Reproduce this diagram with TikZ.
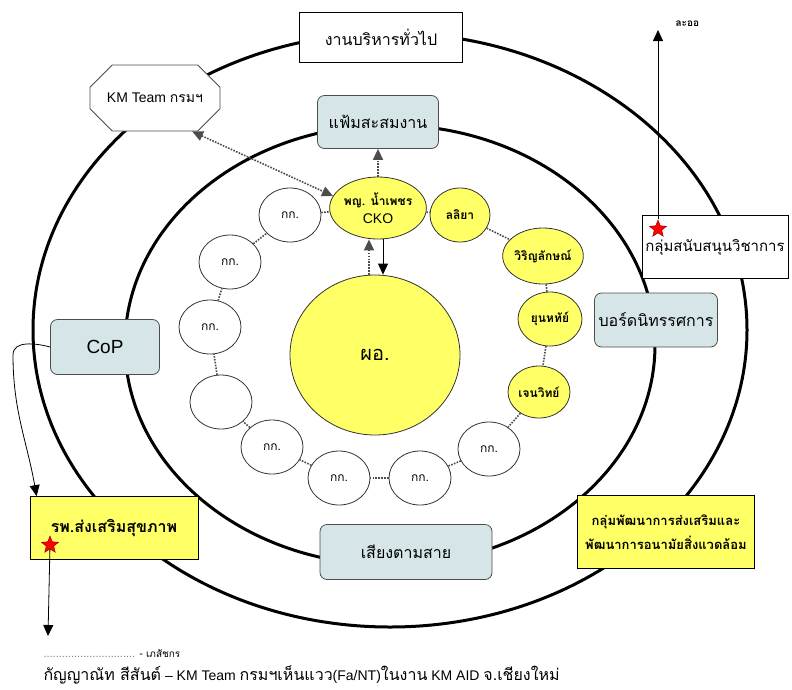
\documentclass[tikz,border=0pt]{standalone}
\usepackage{fontspec}
\setmainfont{Liberation Sans}
\newfontfamily\thai[Script=Thai]{Loma}
\usetikzlibrary{shapes.geometric,shapes.misc,arrows.meta}

\definecolor{ringyellow}{RGB}{255,255,102}
\definecolor{boardfill}{RGB}{214,230,232}

\tikzset{
  member/.style={ellipse,draw=black!80,thick,fill=white,minimum width=62pt,minimum height=54pt,inner sep=0pt,font=\thai\fontsize{12}{14}\selectfont},
  core/.style={member,fill=ringyellow,font=\thai\bfseries\fontsize{12}{14}\selectfont},
  board/.style={rounded corners=7pt,draw=black!70,thick,fill=boardfill,font=\thai\fontsize{16}{18}\selectfont},
  group/.style={draw,thick,font=\thai\fontsize{13}{15}\selectfont},
  link/.style={black!70,line width=1.6pt,dash pattern=on 1.6pt off 1.3pt},
  tip/.style={-{Triangle[width=10pt,length=11pt]}},
  starmark/.style={star,star points=5,star point ratio=2.3,fill=red,draw=red!50!black,minimum size=18pt,inner sep=0pt}
}

\begin{document}
\begin{tikzpicture}[x=1pt,y=-1pt]
\useasboundingbox (0,0) rectangle (792,689);

\draw[line width=3pt] (390,330) ellipse [x radius=357, y radius=297];
\draw[line width=3pt] (390,345) ellipse [x radius=265, y radius=220];

\node[group,fill=white,minimum width=163pt,minimum height=50pt,font=\thai\fontsize{16}{18}\selectfont] (admin) at (381,37) {งานบริหารทั่วไป};
\node[chamfered rectangle,chamfered rectangle xsep=16pt,chamfered rectangle ysep=14pt,draw=black!70,thick,fill=white,minimum width=130pt,minimum height=66pt,font=\fontsize{14}{16}\selectfont] (kmteam) at (155,98) {KM Team {\thai กรมฯ}};
\node[board,minimum width=121pt,minimum height=53pt] (file) at (378,122) {แฟ้มสะสมงาน};
\node[board,minimum width=123pt,minimum height=54pt] (exhibit) at (656,320) {บอร์ดนิทรรศการ};
\node[board,minimum width=109pt,minimum height=55pt,font=\fontsize{19}{21}\selectfont] (cop) at (105,347) {CoP};
\node[board,minimum width=172pt,minimum height=55pt] (radio) at (406,552) {เสียงตามสาย};

\node[group,fill=ringyellow,minimum width=168pt,minimum height=63pt,font=\thai\bfseries\fontsize{16}{18}\selectfont] (hospital) at (114,528) {รพ.ส่งเสริมสุขภาพ};
\node[group,fill=ringyellow,minimum width=177pt,minimum height=73pt,align=center,font=\thai\bfseries\fontsize{13}{24}\selectfont] (envgroup) at (666,532) {กลุ่มพัฒนาการส่งเสริมและ\\พัฒนาการอนามัยสิ่งแวดล้อม};
\node[group,fill=white,minimum width=141pt,minimum height=63pt,font=\thai\fontsize{15}{17}\selectfont] (academic) at (715,247) {กลุ่มสนับสนุนวิชาการ};

\node[ellipse,draw=black!80,thick,fill=ringyellow,minimum width=170pt,minimum height=160pt,font=\thai\fontsize{20}{22}\selectfont] (director) at (375,355) {ผอ.};

\node[core,minimum width=74pt,minimum height=62pt,align=center] (cko) at (378,208) {พญ. น้ำเพชร\\[4pt]{\normalfont\fontsize{14}{16}\selectfont CKO}};
\node[core,minimum width=60pt,minimum height=54pt] (lliya) at (460,215) {ลลิยา};
\node[core,minimum width=64pt,minimum height=56pt] (wirin) at (543,256) {วิริญลักษณ์};
\node[core,minimum width=64pt,minimum height=54pt] (yunhathai) at (550,319) {ยุนหทัย์};
\node[core,minimum width=62pt,minimum height=52pt] (jenwit) at (539,392) {เจนวิทย์};
\node[member] (staffD) at (489,449) {กก.};
\node[member] (staffC) at (420,478) {กก.};
\node[member] (staffB) at (339,478) {กก.};
\node[member] (staffA) at (272,447) {กก.};
\node[member] (staffE) at (221,402) {};
\node[member] (staffF) at (210,327) {กก.};
\node[member] (staffG) at (230,262) {กก.};
\node[member] (staffH) at (290,215) {กก.};

\foreach \a/\b in {cko/lliya,lliya/wirin,wirin/yunhathai,yunhathai/jenwit,jenwit/staffD,staffD/staffC,staffC/staffB,staffB/staffA,staffA/staffE,staffE/staffF,staffF/staffG,staffG/staffH,staffH/cko}
  \draw[link] (\a) -- (\b);

\draw[link,{Triangle[width=10pt,length=11pt]}-{Triangle[width=10pt,length=11pt]}] (kmteam.-42) -- (cko.165);
\draw[link,tip] (cko.north) -- (file.south);
\coordinate (ckoL) at ([xshift=-9pt]cko.south);
\coordinate (ckoR) at ([xshift=5pt]cko.south);
\draw[link,tip] (ckoL |- director.north) -- (ckoL);
\draw[thick,tip] (ckoR) -- (ckoR |- director.north);

\draw[thick,tip] (cop.west) to[out=165,in=90] (13,355) to[out=-90,in=100] ([xshift=7pt]hospital.north west);

\node[starmark] (star1) at (658,229) {};
\coordinate (laor) at (658,30);
\draw[thick,tip] (star1) -- (laor);
\node[anchor=west,font=\thai\bfseries\fontsize{10}{12}\selectfont] (laorlabel) at (672,24) {ละออ};

\node[starmark] (star2) at (50,545) {};
\coordinate (pharm) at (48,636);
\draw[thick,tip] (star2) -- (pharm);

\node[anchor=west,font=\fontsize{11}{13}\selectfont] (legend1) at (40,654) {{\color{black!50}..............................} - {\thai\fontsize{10}{12}\selectfont เภสัชกร}};
\node[anchor=west,font=\fontsize{14}{16}\selectfont] (legend2) at (40,675) {{\thai\fontsize{16}{18}\selectfont กัญญาณัท สีสันต์} -- KM Team {\thai\fontsize{16}{18}\selectfont กรมฯเห็นแวว}(Fa/NT){\thai\fontsize{16}{18}\selectfont ในงาน} KM AID {\thai\fontsize{16}{18}\selectfont จ.เชียงใหม่}};
\end{tikzpicture}
\end{document}
